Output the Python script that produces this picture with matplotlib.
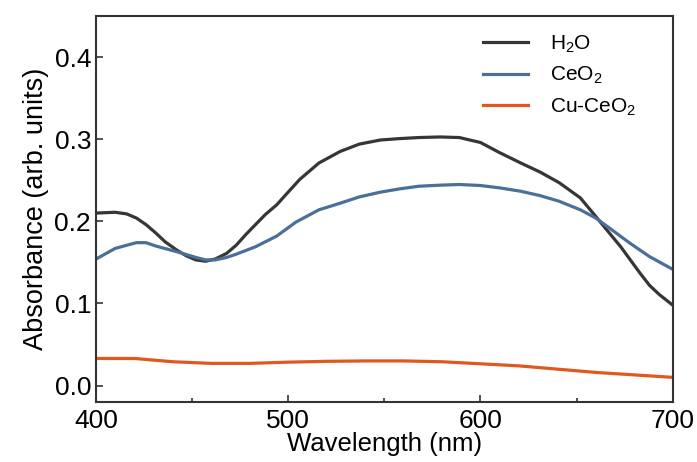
import matplotlib
matplotlib.use("Agg")
import matplotlib.pyplot as plt

plt.rcParams['font.family'] = ['Liberation Sans', 'DejaVu Sans']
plt.rcParams['mathtext.default'] = 'regular'

wl_h2o = [400, 410, 416, 421, 426, 431, 436, 442, 447, 452, 457, 462, 468, 473, 478,
          483, 488, 494, 499, 506, 516, 527, 537, 548, 558, 568, 579, 589, 600, 610,
          621, 631, 641, 652, 660, 667, 673, 678, 683, 688, 693, 700]
h2o = [0.210, 0.211, 0.209, 0.204, 0.196, 0.186, 0.175, 0.165, 0.158, 0.153, 0.1514,
       0.154, 0.161, 0.171, 0.184, 0.196, 0.208, 0.220, 0.233, 0.251, 0.271, 0.285,
       0.294, 0.299, 0.3007, 0.302, 0.3027, 0.302, 0.296, 0.2836, 0.271, 0.260, 0.247,
       0.2285, 0.206, 0.186, 0.169, 0.153, 0.137, 0.122, 0.111, 0.098]

wl_ceo2 = [400, 410, 421, 426, 431, 442, 452, 457, 462, 468, 473, 483, 494, 504, 516,
           527, 537, 548, 558, 568, 579, 589, 600, 610, 621, 631, 641, 652, 660, 667,
           678, 688, 700]
ceo2 = [0.154, 0.167, 0.174, 0.174, 0.170, 0.163, 0.156, 0.153, 0.153, 0.156, 0.160,
        0.169, 0.182, 0.199, 0.214, 0.222, 0.2297, 0.2355, 0.2395, 0.2427, 0.244,
        0.2448, 0.2436, 0.2407, 0.2366, 0.2313, 0.2244, 0.214, 0.204, 0.192, 0.173,
        0.157, 0.1416]

wl_cu = [400, 420, 440, 460, 480, 500, 520, 540, 560, 580, 600, 620, 640, 660, 680, 700]
cu_ceo2 = [0.033, 0.033, 0.029, 0.027, 0.027, 0.0285, 0.0295, 0.030, 0.030, 0.029,
           0.0265, 0.024, 0.020, 0.016, 0.013, 0.010]

labels = ['H$_2$O', 'CeO$_2$', 'Cu-CeO$_2$']
colors = ['#363636', '#4a6f98', '#e0581c']

fig = plt.figure(figsize=(6.97, 4.62), dpi=100)
ax = fig.add_axes([0.1377, 0.1299, 0.8273, 0.8355])

ax.plot(wl_h2o, h2o, color=colors[0], lw=2.3, label=labels[0])
ax.plot(wl_ceo2, ceo2, color=colors[1], lw=2.3, label=labels[1])
ax.plot(wl_cu, cu_ceo2, color=colors[2], lw=2.3, label=labels[2])

ax.set_xlim(400, 700)
ax.set_ylim(-0.02, 0.45)
ax.set_xticks([400, 500, 600, 700])
ax.set_xticks([450, 550, 650], minor=True)
ax.set_yticks([0.0, 0.1, 0.2, 0.3, 0.4])
ax.set_yticklabels(['0.0', '0.1', '0.2', '0.3', '0.4'])
ax.tick_params(which='both', direction='in', labelsize=19, width=1.2, color='#333333')
ax.tick_params(which='major', length=5)
ax.tick_params(which='minor', length=3)
ax.tick_params(axis='x', pad=5)
for s in ax.spines.values():
    s.set_linewidth(1.5)
    s.set_color('#333333')

ax.set_xlabel('Wavelength (nm)', fontsize=18.5, labelpad=-1)
ax.set_ylabel('Absorbance (arb. units)', fontsize=19.5, labelpad=4)

leg = ax.legend(loc='upper left', bbox_to_anchor=(0.671, 0.955), frameon=False,
                borderpad=0, borderaxespad=0,
                fontsize=15, handlelength=2.16, handletextpad=1.06, labelspacing=0.5)

fig.savefig('out.png', dpi=100)
